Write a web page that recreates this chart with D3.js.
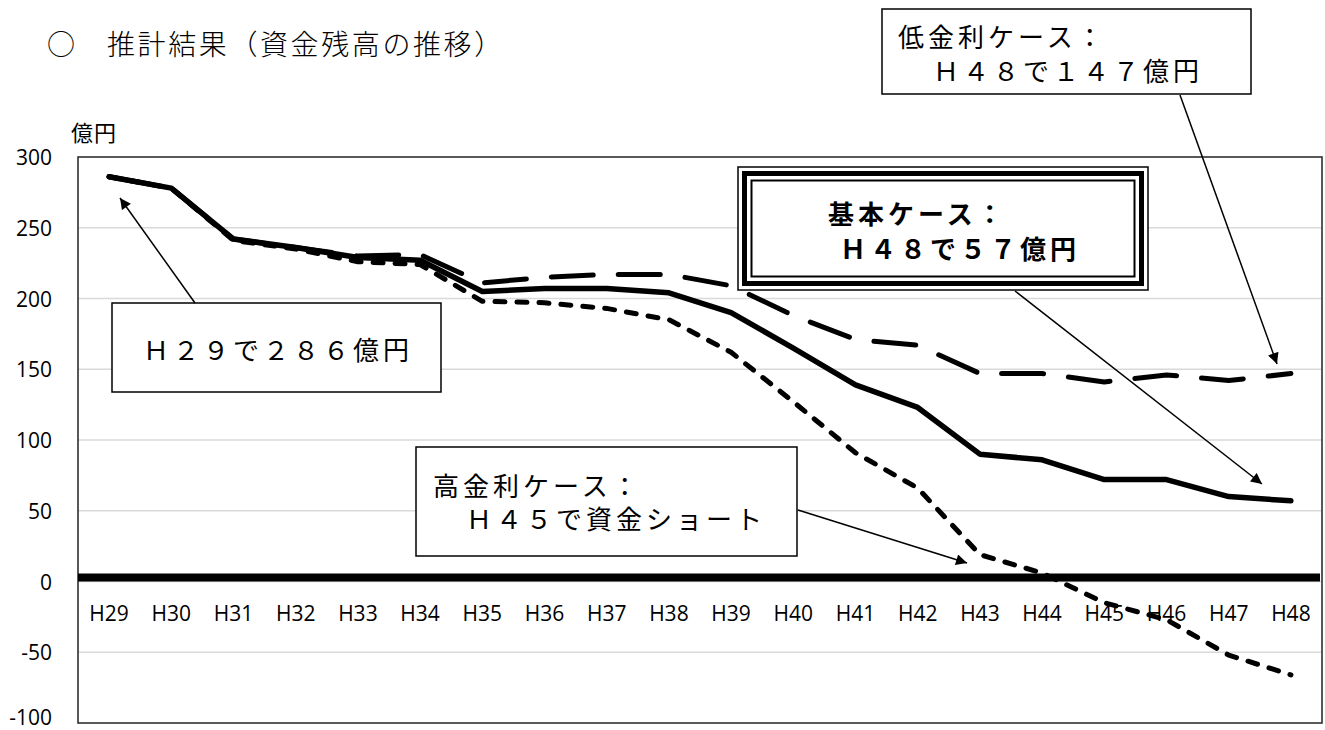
<html>
<head>
<meta charset="utf-8">
<script src="https://cdn.jsdelivr.net/npm/d3@7"></script>
<style>
  body { margin: 0; background: #fff; }
  text { font-family: "Noto Sans CJK JP", sans-serif; fill: #000; }
  .num { font-family: "Open Sans", "Noto Sans", sans-serif; }
</style>
</head>
<body>
<div id="chart"></div>
<script type="text/javascript">

// ---- data (億円) ----
const years = ["H29","H30","H31","H32","H33","H34","H35","H36","H37","H38",
               "H39","H40","H41","H42","H43","H44","H45","H46","H47","H48"];
const baseCase = [286,278,242,236,229,227,205,207,207,204,190,165,139,123,90,86,72,72,60,57];
const lowRate  = [286,278,242,236,230,231,211,215,217,217,209,188,171,167,147,147,141,146,142,147];
const highRate = [286,278,241,235,226,224,198,197,193,185,162,127,91,66,19,6,-15,-27,-52,-66];
const yTicks = [-100,-50,0,50,100,150,200,250,300];

const W = 1325, H = 730;
const plot = {left: 78, top: 157, right: 1322, bottom: 723};

const svg = d3.select("#chart").append("svg")
    .attr("width", W).attr("height", H);

const x = d3.scaleBand().domain(years).range([plot.left, plot.right]);
const y = d3.scaleLinear().domain([-100, 300]).range([plot.bottom, plot.top]);
const cx = d => x(d) + x.bandwidth() / 2;

// arrow head
svg.append("defs").append("marker")
    .attr("id", "arrow")
    .attr("viewBox", "0 0 10 10")
    .attr("refX", 10).attr("refY", 5)
    .attr("markerWidth", 12).attr("markerHeight", 11)
    .attr("markerUnits", "userSpaceOnUse")
    .attr("orient", "auto")
    .append("path").attr("d", "M0,0 L10,5 L0,10 Z").attr("fill", "#000");

// title + unit
svg.append("text").attr("x", 47).attr("y", 43)
    .attr("dominant-baseline", "central")
    .style("font-size", "28px").style("font-weight", 300).text("○");
svg.append("text").attr("x", 107).attr("y", 43)
    .attr("dominant-baseline", "central")
    .style("font-size", "28px").style("font-weight", 300)
    .style("letter-spacing", "2.6px")
    .text("推計結果（資金残高の推移）");
svg.append("text").attr("x", 71).attr("y", 131)
    .attr("dominant-baseline", "central")
    .style("font-size", "22px").style("letter-spacing", "1px")
    .text("億円");

// gridlines
svg.append("g").selectAll("line")
    .data(yTicks.filter(t => t > -100 && t < 300))
    .enter().append("line")
    .attr("x1", plot.left).attr("x2", plot.right)
    .attr("y1", d => y(d)).attr("y2", d => y(d))
    .attr("stroke", "#d9d9d9").attr("stroke-width", 1.5);

// y tick labels
svg.append("g").selectAll("text")
    .data(yTicks).enter().append("text")
    .attr("class", "num")
    .attr("x", 52).attr("y", d => y(d) - (d === -100 ? 6 : 0))
    .attr("text-anchor", "end").attr("dominant-baseline", "central")
    .style("font-size", "21px").text(d => d);

// category labels
svg.append("g").selectAll("text")
    .data(years).enter().append("text")
    .attr("class", "num")
    .attr("x", d => cx(d)).attr("y", 613)
    .attr("text-anchor", "middle").attr("dominant-baseline", "central")
    .style("font-size", "21px").text(d => d);

// frame
svg.append("rect")
    .attr("x", plot.left).attr("y", plot.top)
    .attr("width", plot.right - plot.left).attr("height", plot.bottom - plot.top)
    .attr("fill", "none").attr("stroke", "#222").attr("stroke-width", 1.5);

// thick zero axis
svg.append("line")
    .attr("x1", plot.left).attr("x2", plot.right - 2)
    .attr("y1", y(0) - 4).attr("y2", y(0) - 4)
    .attr("stroke", "#000").attr("stroke-width", 8);

// series
const line = d3.line().x((d, i) => cx(years[i])).y(d => y(d));
const series = [
  {vals: lowRate,  width: 5,   dash: "42,25"},
  {vals: highRate, width: 5,   dash: "10,12"},
  {vals: baseCase, width: 5.5, dash: null}
];
svg.append("g").selectAll("path")
    .data(series).enter().append("path")
    .attr("d", d => line(d.vals))
    .attr("fill", "none").attr("stroke", "#000")
    .attr("stroke-width", d => d.width)
    .attr("stroke-linejoin", "round")
    .attr("stroke-linecap", "round")
    .attr("stroke-dasharray", d => d.dash);

// ---- annotations ----
function box(x0, y0, w, h) {
  svg.append("rect").attr("x", x0).attr("y", y0).attr("width", w).attr("height", h)
     .attr("fill", "#fff").attr("stroke", "#000").attr("stroke-width", 1.5);
}
function label(tx, ty, str, bold) {
  svg.append("text").attr("x", tx).attr("y", ty)
     .attr("dominant-baseline", "central")
     .style("font-size", "26px").style("letter-spacing", "4px")
     .style("font-weight", bold ? "bold" : "normal")
     .text(str);
}
function arrow(x1, y1, x2, y2) {
  svg.append("line").attr("x1", x1).attr("y1", y1).attr("x2", x2).attr("y2", y2)
     .attr("stroke", "#000").attr("stroke-width", 1.5)
     .attr("marker-end", "url(#arrow)");
}

// low rate
box(882, 9, 369, 85);
label(898, 35, "低金利ケース：");
label(933, 69, "Ｈ４８で１４７億円");

// base case (triple border)
svg.append("rect").attr("x", 738).attr("y", 167).attr("width", 410).attr("height", 123)
   .attr("fill", "#fff").attr("stroke", "#000").attr("stroke-width", 1.5);
svg.append("rect").attr("x", 744.5).attr("y", 173.5).attr("width", 397).attr("height", 110)
   .attr("fill", "none").attr("stroke", "#000").attr("stroke-width", 5);
svg.append("rect").attr("x", 751.5).attr("y", 180.5).attr("width", 383).attr("height", 96)
   .attr("fill", "none").attr("stroke", "#000").attr("stroke-width", 2);
label(828, 212, "基本ケース：", true);
label(840, 247, "Ｈ４８で５７億円", true);

// H29
box(112, 303, 329, 89);
label(143, 348, "Ｈ２９で２８６億円");

// high rate
box(416, 447, 381, 109);
label(433, 484, "高金利ケース：");
label(466, 517, "Ｈ４５で資金ショート");

arrow(1180, 95, 1277, 364);
arrow(1015, 291, 1262, 484);
arrow(195, 303, 120, 198);
arrow(798, 510, 967, 563);

</script>
</body>
</html>
